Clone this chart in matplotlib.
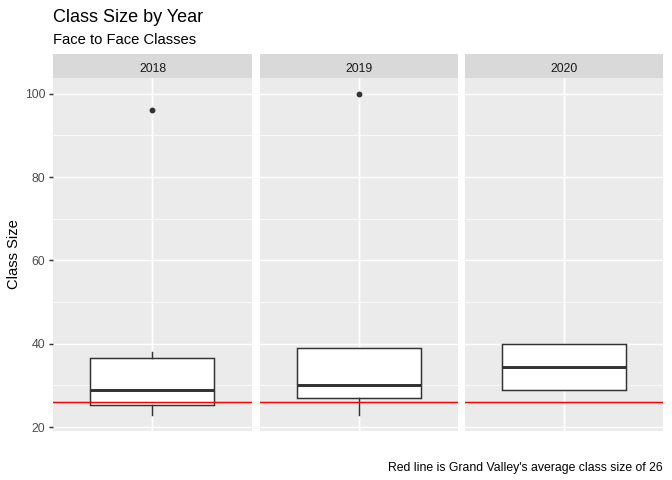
import matplotlib
matplotlib.use("Agg")
import matplotlib.pyplot as plt
from matplotlib.ticker import MultipleLocator

plt.rcParams['font.family'] = ['Liberation Sans', 'DejaVu Sans']

years = ["2018", "2019", "2020"]
q1 = [25.2, 27.0, 29.0]
med = [29.0, 30.2, 34.5]
q3 = [36.6, 39.0, 40.0]
whislo = [23.0, 23.0, 29.0]
whishi = [38.0, 39.0, 40.0]
fliers = [[96], [100], []]
avg_size = 26

W, H = 672, 480
fig = plt.figure(figsize=(W / 100, H / 100), dpi=100)

panel_left = [53.3, 259.5, 465.0]
panel_w = 198.4
p_top, p_bot = 77.7, 430.7
s_top = 54.0

lw = 1.07
ylo, yhi = 19.15, 103.85
small = 8.8

for i, yr in enumerate(years):
    l = panel_left[i]
    ax = fig.add_axes([l / W, 1 - p_bot / H, panel_w / W, (p_bot - p_top) / H])
    ax.set_facecolor('#EBEBEB')
    for s in ax.spines.values():
        s.set_visible(False)
    ax.set_xlim(0.4, 1.6)
    ax.set_ylim(ylo, yhi)
    ax.yaxis.set_major_locator(MultipleLocator(20))
    ax.yaxis.set_minor_locator(MultipleLocator(10))
    ax.set_xticks([1])
    ax.grid(which='major', color='white', linewidth=lw)
    ax.grid(which='minor', axis='y', color='white', linewidth=lw / 2)
    ax.set_axisbelow(True)
    ax.tick_params(axis='x', length=0, labelbottom=False)
    ax.tick_params(axis='y', which='minor', length=0)
    if i == 0:
        ax.tick_params(axis='y', which='major', length=2.66, width=lw,
                       color='#333333', labelcolor='#4D4D4D', labelsize=small, pad=3.1)
    else:
        ax.tick_params(axis='y', which='both', length=0, labelleft=False)
    stats = [dict(q1=q1[i], med=med[i], q3=q3[i], whislo=whislo[i],
                  whishi=whishi[i], fliers=fliers[i])]
    ax.bxp(stats, positions=[1], widths=0.75, patch_artist=True, showcaps=False,
           boxprops=dict(facecolor='white', edgecolor='#333333', linewidth=lw),
           medianprops=dict(color='#333333', linewidth=2 * lw),
           whiskerprops=dict(color='#333333', linewidth=lw),
           flierprops=dict(marker='o', markerfacecolor='#333333',
                           markeredgecolor='#333333', markersize=3.2),
           zorder=3)
    ax.axhline(avg_size, color='red', linewidth=lw, zorder=4)
    ax.set_xlim(0.4, 1.6)

    sax = fig.add_axes([l / W, 1 - p_top / H, panel_w / W, (p_top - s_top) / H])
    sax.set_facecolor('#D9D9D9')
    sax.set_xticks([]); sax.set_yticks([])
    for s in sax.spines.values():
        s.set_visible(False)
    sax.text(0.5, 5.8 / (p_top - s_top), yr, ha='center', va='baseline', fontsize=small,
             color='#1A1A1A', transform=sax.transAxes)

fig.text(53.3 / W, 1 - 22 / H, "Class Size by Year", fontsize=13.0,
         ha='left', va='baseline', color='black')
fig.text(53.3 / W, 1 - 44.3 / H, "Face to Face Classes", fontsize=10.6,
         ha='left', va='baseline', color='black')
fig.text(14.5 / W, 1 - ((p_top + p_bot) / 2) / H, "Class Size", fontsize=10.6,
         rotation=90, ha='center', va='center', color='black')
fig.text(663 / W, 1 - 470.5 / H, "Red line is Grand Valley's average class size of 26",
         fontsize=small, ha='right', va='baseline', color='black')

fig.savefig("out.png", dpi=100, facecolor='white')
